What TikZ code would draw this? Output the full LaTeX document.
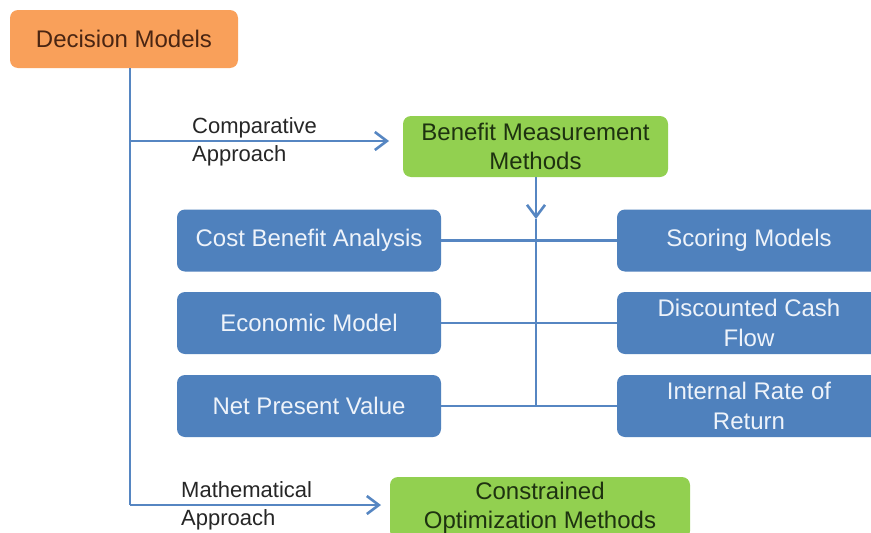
\documentclass[tikz,border=0pt]{standalone}
\usepackage{fontspec}
\setmainfont{Liberation Sans}
\usetikzlibrary{arrows.meta}
\definecolor{orangebox}{HTML}{F9A05A}
\definecolor{greenbox}{HTML}{92D050}
\definecolor{bluebox}{HTML}{4F81BD}
\definecolor{bluetext}{HTML}{EEF3FA}
\definecolor{linecol}{HTML}{5686C2}
\definecolor{greentext}{HTML}{1E3210}
\definecolor{orangetext}{HTML}{4A2512}
\tikzset{
  boxbase/.style={rounded corners=8pt, inner sep=0pt, align=center, font=\fontsize{24}{29.5}\selectfont},
  orangenode/.style={boxbase, fill=orangebox, text=orangetext, minimum width=228pt, minimum height=58pt},
  greennode/.style={boxbase, fill=greenbox, text=greentext},
  bluenode/.style={boxbase, fill=bluebox, text=bluetext, minimum width=264pt, minimum height=62pt},
  conn/.style={draw=linecol, line width=2.6pt},
  arr/.style={conn, -{Straight Barb[length=12pt,width=18pt,line width=2.6pt]}},
  lbl/.style={align=left, inner sep=0pt, anchor=west, font=\fontsize{22}{28}\selectfont, text=black!85}
}
\begin{document}
\begin{tikzpicture}[x=1pt,y=-1pt]
\useasboundingbox (0,0) rectangle (871,533);
\clip (0,0) rectangle (871,533);
\fill[white] (0,0) rectangle (871,533);
% nodes
\node[orangenode] (DM) at (124,39) {Decision Models};
\node[greennode, minimum width=265pt, minimum height=61pt] (BMM) at (535.5,146.5) {Benefit Measurement\\Methods};
\node[greennode, minimum width=300pt, minimum height=62pt] (COM) at (540,508) {Constrained\\Optimization Methods};
\node[bluenode] (CBA) at (309,240.5) {Cost Benefit Analysis};
\node[bluenode] (EM)  at (309,323) {Economic Model};
\node[bluenode] (NPV) at (309,406) {Net Present Value};
\node[bluenode] (SM)  at (749,240.5) {Scoring Models};
\node[bluenode] (DCF) at (749,323) {Discounted Cash\\Flow};
\node[bluenode] (IRR) at (749,406) {Internal Rate of\\Return};
% labels
\node[lbl] (lcomp) at (192,142) {Comparative\\Approach};
\node[lbl] (lmath) at (181,506) {Mathematical\\Approach};
% coordinates
\coordinate (trunk) at (130,505);
\coordinate (cbranch) at (130,141);
\coordinate (ctip) at (389,141);
\coordinate (mtip) at (381,505);
\coordinate (spine) at (536,219);
% connectors
\draw[conn] (DM.south -| trunk) -- (trunk);
\draw[arr] (cbranch) -- (ctip);
\draw[arr] (trunk) -- (mtip);
\draw[arr] (BMM.south -| spine) -- (spine);
\draw[conn] (spine) -- (NPV.east -| spine);
\draw[conn] (CBA.east) -- (SM.west);
\draw[conn] (EM.east) -- (DCF.west);
\draw[conn] (NPV.east) -- (IRR.west);
\end{tikzpicture}
\end{document}
